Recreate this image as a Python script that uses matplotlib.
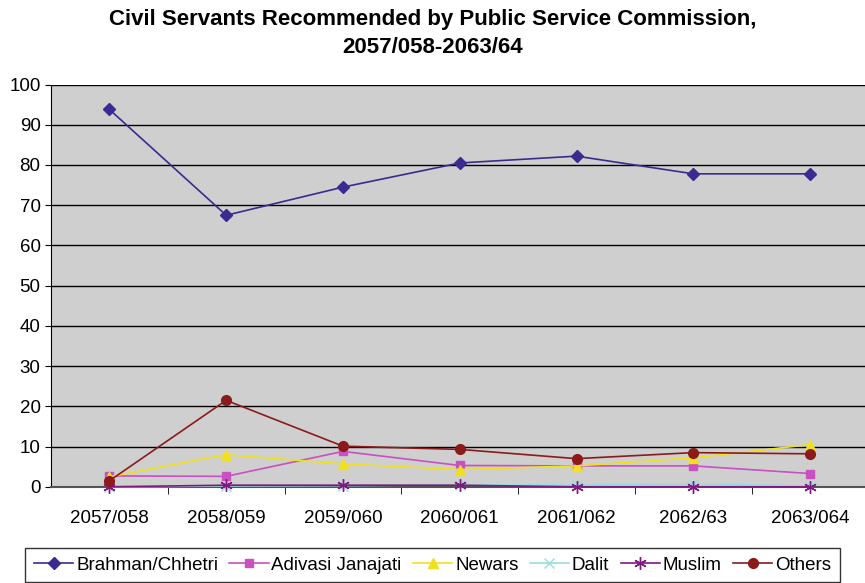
import matplotlib
matplotlib.use('Agg')
import matplotlib.pyplot as plt

plt.rcParams['font.family'] = ['Liberation Sans', 'DejaVu Sans']

years = ['2057/058', '2058/059', '2059/060', '2060/061', '2061/062', '2062/63', '2063/064']
brahman = [93.8, 67.5, 74.5, 80.5, 82.2, 77.8, 77.8]
adivasi = [2.7, 2.6, 8.8, 5.3, 5.2, 5.2, 3.3]
newars = [2.5, 8.0, 5.7, 4.3, 5.2, 7.2, 10.5]
dalit = [0.0, 0.2, 0.3, 0.5, 0.5, 0.8, 0.2]
muslim = [0.0, 0.4, 0.4, 0.4, 0.0, 0.0, 0.0]
others = [1.5, 21.5, 10.1, 9.3, 7.0, 8.5, 8.2]

series = [
    ('Brahman/Chhetri', brahman, '#3b2a8f', 'D', 6),
    ('Adivasi Janajati', adivasi, '#c850c0', 's', 6),
    ('Newars', newars, '#f0e020', '^', 7),
    ('Dalit', dalit, '#99dddd', 'x', 7),
    ('Muslim', muslim, '#801880', (6, 2, 0), 9),
    ('Others', others, '#8b1a1a', 'o', 7),
]

fig = plt.figure(figsize=(8.65, 5.83), dpi=100)
ax = fig.add_axes([0.059, 0.165, 0.945, 0.69])
ax.set_facecolor('#cfcfcf')

x = list(range(len(years)))
for name, vals, col, mk, ms in series:
    ax.plot(x, vals, color=col, marker=mk, markersize=ms, linewidth=1.2,
            label=name, clip_on=False, zorder=3)

ax.set_xlim(-0.5, len(years) - 0.5)
ax.set_ylim(0, 100)
ax.set_yticks(range(0, 101, 10))
ax.set_xticks(x)
ax.set_xticklabels(years)
ax.tick_params(axis='both', labelsize=13.5, length=4, direction='out')
ax.tick_params(axis='x', length=0, pad=17)
# category boundary ticks
ax.set_xticks([i + 0.5 for i in x[:-1]], minor=True)
ax.tick_params(axis='x', which='minor', length=5)
ax.yaxis.grid(True, color='black', linewidth=1)
ax.set_axisbelow(True)
for s in ['top', 'right']:
    ax.spines[s].set_visible(False)
ax.spines['left'].set_color('black')
ax.spines['bottom'].set_color('#555555')
ax.spines['bottom'].set_linewidth(1.5)

fig.suptitle('Civil Servants Recommended by Public Service Commission,\n2057/058-2063/64',
             fontsize=16, fontweight='bold', y=0.985, linespacing=1.45)

leg = fig.legend(loc='lower center', bbox_to_anchor=(0.5, -0.015), ncol=6,
                 fontsize=13.5, frameon=True, fancybox=False, edgecolor='black',
                 handlelength=2.1, handletextpad=0.15, columnspacing=0.6,
                 borderpad=0.45, borderaxespad=0.5)
leg.get_frame().set_linewidth(1)

fig.savefig('out.png', dpi=100)
